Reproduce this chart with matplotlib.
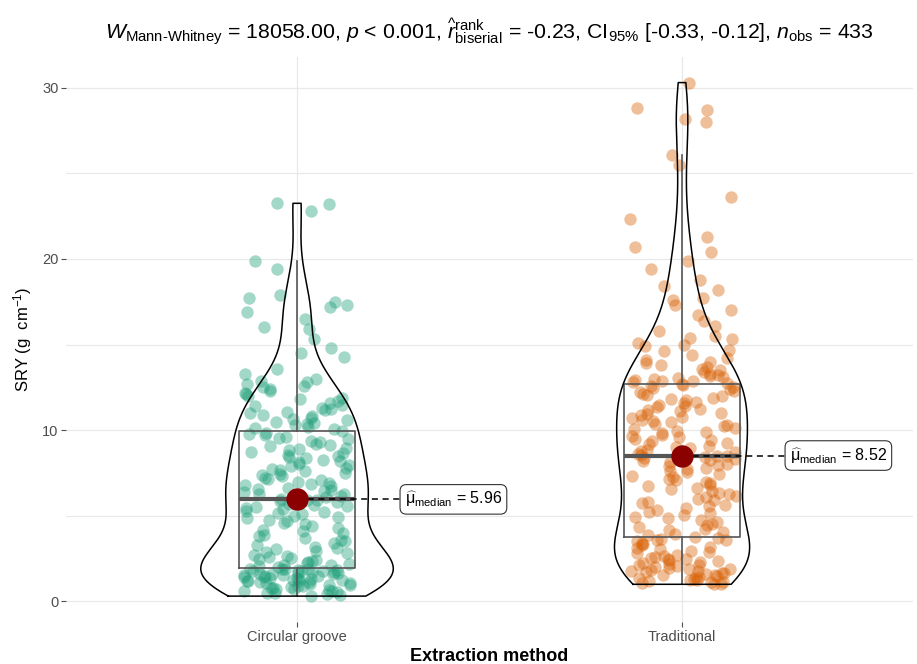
import numpy as np
import matplotlib.pyplot as plt

plt.rcParams['font.family'] = ['Liberation Sans', 'DejaVu Sans']
plt.rcParams['mathtext.fontset'] = 'custom'
plt.rcParams['mathtext.rm'] = 'Liberation Sans'
plt.rcParams['mathtext.it'] = 'Liberation Sans:italic'
plt.rcParams['mathtext.bf'] = 'Liberation Sans:bold'

# --- data ---
groups = ['Circular groove', 'Traditional']

circular = [
    0.31, 0.38, 0.42, 0.47, 0.52, 0.55, 0.58, 0.63, 0.66, 0.71,
    0.74, 0.78, 0.81, 0.85, 0.88, 0.92, 0.95, 0.97, 1.02, 1.05,
    1.08, 1.11, 1.14, 1.17, 1.20, 1.22, 1.25, 1.28, 1.31, 1.33,
    1.36, 1.39, 1.42, 1.44, 1.47, 1.50, 1.52, 1.55, 1.58, 1.60,
    1.63, 1.66, 1.68, 1.71, 1.73, 1.76, 1.78, 1.80, 1.83, 1.85,
    1.87, 1.89, 1.91, 1.92,
    2.00, 2.05, 2.10, 2.15, 2.20, 2.26, 2.31, 2.36, 2.42, 2.48,
    2.55, 2.60, 2.67, 2.74, 2.80, 2.88, 2.95, 3.04, 3.12, 3.20,
    3.30, 3.40, 3.50, 3.60, 3.70, 3.80, 3.90, 4.00, 4.10, 4.20,
    4.30, 4.40, 4.50, 4.60, 4.70, 4.78, 4.86, 4.94, 5.00, 5.08,
    5.15, 5.22, 5.30, 5.37, 5.44, 5.50, 5.56, 5.62, 5.68, 5.74,
    5.80, 5.85, 5.90, 5.94,
    6.00, 6.05, 6.10, 6.18, 6.25, 6.30, 6.38, 6.45, 6.50, 6.58,
    6.65, 6.72, 6.80, 6.86, 6.93, 7.00, 7.08, 7.15, 7.22, 7.30,
    7.37, 7.44, 7.52, 7.60, 7.67, 7.74, 7.82, 7.90, 7.97, 8.05,
    8.12, 8.20, 8.28, 8.35, 8.43, 8.50, 8.58, 8.66, 8.74, 8.82,
    8.90, 8.98, 9.06, 9.14, 9.22, 9.30, 9.38, 9.46, 9.54, 9.62,
    9.70, 9.78, 9.86, 9.95,
    10.05, 10.12, 10.20, 10.28, 10.35, 10.42, 10.50, 10.58, 10.66, 10.74,
    10.82, 10.90, 10.98, 11.06, 11.15, 11.24, 11.32, 11.40, 11.50, 11.60,
    11.70, 11.80, 11.90, 12.00, 12.10, 12.20, 12.30, 12.40, 12.50, 12.60,
    12.70, 12.80, 12.90, 12.98,
    13.30, 13.60, 14.30, 14.50, 14.80, 15.30, 15.90, 16.00, 16.50, 16.90,
    17.20, 17.30, 17.50, 17.70, 17.90, 19.40, 19.90, 22.80, 23.20, 23.25,
]

traditional = [
    1.00, 1.04, 1.08, 1.12, 1.16, 1.20, 1.24, 1.28, 1.32, 1.36,
    1.40, 1.44, 1.48, 1.52, 1.56, 1.60, 1.64, 1.68, 1.72, 1.76,
    1.80, 1.84, 1.88, 1.92, 1.96, 2.00, 2.05, 2.10, 2.15, 2.20,
    2.25, 2.30, 2.35, 2.40, 2.45, 2.50, 2.56, 2.62, 2.68, 2.74,
    2.80, 2.88, 2.96, 3.04, 3.12, 3.20, 3.28, 3.36, 3.44, 3.50,
    3.56, 3.60, 3.65, 3.68,
    3.75, 3.85, 3.95, 4.05, 4.15, 4.25, 4.35, 4.45, 4.55, 4.65,
    4.75, 4.85, 4.95, 5.05, 5.15, 5.25, 5.35, 5.45, 5.55, 5.64,
    5.73, 5.82, 5.91, 6.00, 6.09, 6.18, 6.27, 6.36, 6.45, 6.54,
    6.63, 6.72, 6.81, 6.90, 6.99, 7.08, 7.17, 7.26, 7.35, 7.44,
    7.53, 7.62, 7.71, 7.80, 7.88, 7.96, 8.04, 8.12, 8.20, 8.27,
    8.34, 8.40, 8.45, 8.50,
    8.52,
    8.56, 8.62, 8.70, 8.78, 8.86, 8.94, 9.02, 9.10, 9.18, 9.26,
    9.34, 9.42, 9.50, 9.58, 9.66, 9.74, 9.82, 9.90, 9.98, 10.06,
    10.14, 10.22, 10.30, 10.38, 10.46, 10.54, 10.62, 10.70, 10.78, 10.86,
    10.94, 11.02, 11.10, 11.18, 11.26, 11.34, 11.42, 11.50, 11.58, 11.66,
    11.74, 11.82, 11.90, 11.98, 12.06, 12.14, 12.22, 12.30, 12.38, 12.46,
    12.54, 12.60, 12.65, 12.70,
    12.75, 12.80, 12.85, 12.90, 12.95, 13.00, 13.05, 13.10, 13.15, 13.20,
    13.30, 13.40, 13.50, 13.60, 13.70, 13.80, 13.90, 14.00, 14.10, 14.20,
    14.40, 14.60, 14.70, 14.90, 15.00, 15.10, 15.30, 15.40, 15.50, 15.80,
    16.10, 16.40, 16.70, 17.00, 17.30, 17.60, 17.70, 18.20, 18.40, 18.80,
    19.40, 19.90, 20.40, 20.70, 21.30, 22.35, 23.60, 25.50, 26.10, 28.00,
    28.20, 28.70, 28.80, 30.30,
]

median_labels = [5.96, 8.52]
colors = ['#1B9E77', '#D95F02']

title = (r"$W_{\mathrm{Mann\text{-}Whitney}}$ = 18058.00, $p$ < 0.001, "
         r"$\widehat{r}_{\mathrm{biserial}}^{\mathrm{rank}}$ = -0.23, "
         r"CI$_{95\%}$ [-0.33, -0.12], $n_{\mathrm{obs}}$ = 433")


def kde_nrd0(vals, grid):
    # gaussian kde with R's default bandwidth (bw.nrd0)
    v = np.asarray(vals)
    q75, q25 = np.percentile(v, [75, 25])
    bw = 0.9 * min(v.std(ddof=1), (q75 - q25) / 1.34) * len(v) ** -0.2
    z = (grid[:, None] - v[None, :]) / bw
    return np.exp(-0.5 * z ** 2).sum(axis=1) / (len(v) * bw * np.sqrt(2 * np.pi))


data = [np.array(circular), np.array(traditional)]
positions = np.arange(1, len(groups) + 1)

fig = plt.figure(figsize=(9.17, 6.64), dpi=100)
ax = fig.add_axes([0.072, 0.0633, 0.9237, 0.851])

# jittered points (horizontal jitter only, like position_jitter)
rng = np.random.default_rng(7)
for pos, vals, col in zip(positions, data, colors):
    offs = rng.uniform(-0.14, 0.14, len(vals))
    ax.scatter(pos + offs, vals, s=80, color=col, alpha=0.4, linewidths=0, zorder=2)

# boxplots
ax.boxplot(data, positions=positions, widths=0.3, showfliers=False,
           whis=1.5, patch_artist=False, zorder=3,
           boxprops=dict(color='#555555', lw=1.2),
           whiskerprops=dict(color='#555555', lw=1.2),
           capprops=dict(lw=0),
           medianprops=dict(color='#555555', lw=3))

# violins (scale = area, max width 0.5)
grids = [np.linspace(v.min(), v.max(), 512) for v in data]
dens = [kde_nrd0(v, g) for v, g in zip(data, grids)]
dmax = max(d.max() for d in dens)
for pos, g, d in zip(positions, grids, dens):
    hw = d / dmax * 0.25
    xs = np.concatenate([pos - hw, (pos + hw)[::-1], [pos - hw[0]]])
    ys = np.concatenate([g, g[::-1], [g[0]]])
    ax.plot(xs, ys, color='black', lw=1.1, zorder=4)

# median points and labels
for pos, m in zip(positions, median_labels):
    ax.plot([pos, pos + 0.268], [m, m], color='black', lw=1.1,
            ls=(0, (4, 3)), zorder=5)
    ax.scatter([pos], [m], s=260, color='#8B0000', zorder=6, linewidths=0)
    ax.text(pos + 0.28, m, r"$\widehat{\mathrm{\mu}}_{\mathrm{median}}$ = %.2f" % m,
            ha='left', va='center', fontsize=11.5, zorder=7,
            bbox=dict(boxstyle='round,pad=0.3,rounding_size=0.4',
                      fc='white', ec='#333333', lw=0.8))

ax.set_xlim(0.4, 2.6)
ax.set_ylim(-1.2, 31.8)
ax.set_xticks(positions)
ax.set_xticklabels(groups)
ax.set_yticks([0, 10, 20, 30])
ax.set_yticks([5, 15, 25], minor=True)
ax.grid(True, which='major', color='#e8e8e8', lw=0.9)
ax.grid(True, which='minor', axis='y', color='#e8e8e8', lw=0.9)
ax.set_axisbelow(True)
ax.tick_params(axis='both', which='major', length=3.5, width=0.8,
               color='#4d4d4d', labelcolor='#4d4d4d', labelsize=10.5, pad=2)
ax.tick_params(axis='y', which='minor', length=0)
for sp in ax.spines.values():
    sp.set_visible(False)

ax.set_xlabel('Extraction method', fontsize=13, fontweight='bold', labelpad=3)
ax.set_ylabel(r'SRY (g  cm$^{-1}$)', fontsize=12, labelpad=6)
ax.set_title(title, fontsize=15.3, pad=13)

fig.savefig('out.png', dpi=100)
